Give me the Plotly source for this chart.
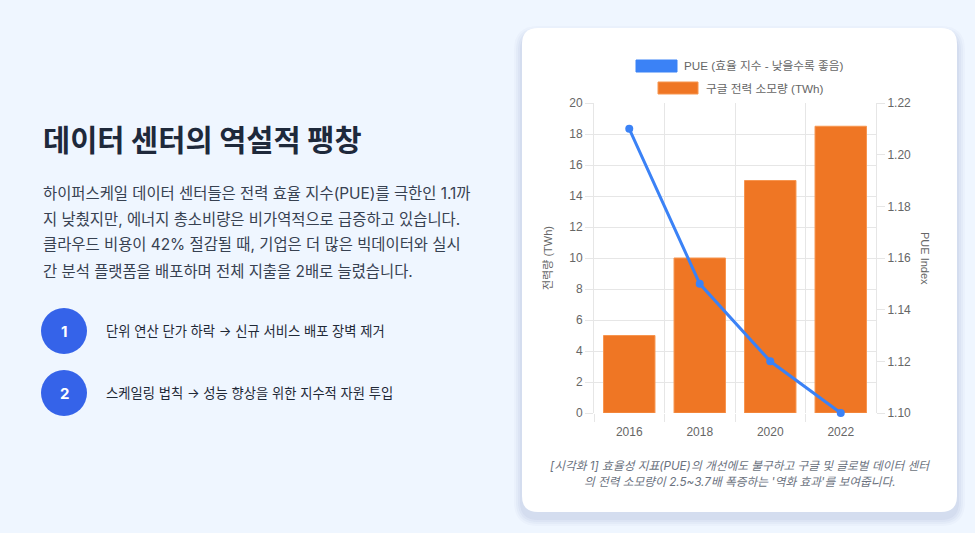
import plotly.graph_objects as go

# data
years = ['2016', '2018', '2020', '2022']
power_twh = [5, 10, 15, 18.5]
pue = [1.21, 1.15, 1.12, 1.10]

bar_name = '구글 전력 소모량 (TWh)'
line_name = 'PUE (효율 지수 - 낮을수록 좋음)'

title = '데이터 센터의 역설적 팽창'
body_lines = [
    '하이퍼스케일 데이터 센터들은 전력 효율 지수(PUE)를 극한인 1.1까',
    '지 낮췄지만, 에너지 총소비량은 비가역적으로 급증하고 있습니다.',
    '클라우드 비용이 42% 절감될 때, 기업은 더 많은 빅데이터와 실시',
    '간 분석 플랫폼을 배포하며 전체 지출을 2배로 늘렸습니다.',
]
steps = [
    '단위 연산 단가 하락 → 신규 서비스 배포 장벽 제거',
    '스케일링 법칙 → 성능 향상을 위한 지수적 자원 투입',
]
caption_lines = [
    "[시각화 1] 효율성 지표(PUE)의 개선에도 불구하고 구글 및 글로벌 데이터 센터",
    "의 전력 소모량이 2.5~3.7배 폭증하는 '역화 효과'를 보여줍니다.",
]

W, H = 975, 533
BLUE = '#3b82f6'
ORANGE = '#ef7624'
KR = 'Noto Sans CJK KR'
SANS = 'Inter, Noto Sans CJK KR'
CHART = 'Liberation Sans, Arial, Noto Sans CJK KR'


def X(px):
    return px / W


def Y(py):
    return 1 - py / H


def rrect(x0, y0, x1, y1, r):
    return (f"M {X(x0+r)},{Y(y0)} L {X(x1-r)},{Y(y0)} Q {X(x1)},{Y(y0)} {X(x1)},{Y(y0+r)} "
            f"L {X(x1)},{Y(y1-r)} Q {X(x1)},{Y(y1)} {X(x1-r)},{Y(y1)} "
            f"L {X(x0+r)},{Y(y1)} Q {X(x0)},{Y(y1)} {X(x0)},{Y(y1-r)} "
            f"L {X(x0)},{Y(y0+r)} Q {X(x0)},{Y(y0)} {X(x0+r)},{Y(y0)} Z")


fig = go.Figure()
fig.add_trace(go.Bar(
    x=years, y=power_twh, name=bar_name,
    marker=dict(color=ORANGE, line=dict(color='#f7954f', width=1)),
    showlegend=False,
))
fig.add_trace(go.Scatter(
    x=years, y=pue, name=line_name, yaxis='y2', mode='lines+markers',
    line=dict(color=BLUE, width=3), marker=dict(size=8, color=BLUE),
    cliponaxis=False, showlegend=False,
))

grid = '#e6e6e6'
tick_font = dict(family=CHART, size=12, color='#666666')
fig.update_layout(
    width=W, height=H,
    margin=dict(l=0, r=0, t=0, b=0, autoexpand=False),
    paper_bgcolor='#eff6ff',
    plot_bgcolor='rgba(0,0,0,0)',
    bargap=0.27,
    xaxis=dict(domain=[X(594), X(876)], type='category', tickson='boundaries',
               showgrid=True, gridcolor=grid, ticks='outside', ticklen=8,
               tickcolor=grid, tickfont=tick_font, showline=False, automargin=False,
               ticklabelstandoff=10),
    yaxis=dict(domain=[Y(413), Y(103)], range=[0, 20], dtick=2, showgrid=True,
               gridcolor=grid, ticks='outside', ticklen=8, tickcolor=grid,
               tickfont=tick_font, showline=True, linecolor=grid, zeroline=False,
               automargin=False),
    yaxis2=dict(overlaying='y', side='right', range=[1.10, 1.22], dtick=0.02,
                tickformat='.2f', showgrid=False, ticks='outside', ticklen=8,
                tickcolor=grid, tickfont=tick_font, showline=True, linecolor=grid,
                zeroline=False, automargin=False),
)

shapes = []
# card shadow + card
for i, op in enumerate([0.025, 0.03, 0.035, 0.04]):
    g = 8 - 2 * i
    shapes.append(dict(type='path', xref='paper', yref='paper', layer='below',
                       path=rrect(522 - g, 28 - g + 6, 957 + g, 512 + g + 6, 16 + g),
                       fillcolor=f'rgba(30,58,138,{op})', line=dict(width=0)))
shapes.append(dict(type='path', xref='paper', yref='paper', layer='below',
                   path=rrect(522, 28, 957, 512, 16),
                   fillcolor='white', line=dict(width=0)))
# legend swatches
shapes.append(dict(type='rect', xref='paper', yref='paper',
                   x0=X(636), x1=X(677), y0=Y(72), y1=Y(60),
                   fillcolor=BLUE, line=dict(color=BLUE, width=1)))
shapes.append(dict(type='rect', xref='paper', yref='paper',
                   x0=X(658), x1=X(698), y0=Y(94), y1=Y(82),
                   fillcolor=ORANGE, line=dict(color='#f7954f', width=1)))
# numbered circles
for k in range(len(steps)):
    cy = 331 + 62 * k
    shapes.append(dict(type='circle', xref='paper', yref='paper',
                       x0=X(41), x1=X(87), y0=Y(cy + 23), y1=Y(cy - 23),
                       fillcolor='#3563e9', line=dict(width=0)))

ann = []
ann.append(dict(text=f'<b>{title}</b>', x=X(41), y=Y(138), xanchor='left', yanchor='middle',
                font=dict(family=KR, size=29.5, color='#1e293b')))
for i, line in enumerate(body_lines):
    ann.append(dict(text=line, x=X(41), y=Y(193 + 26 * i), xanchor='left', yanchor='middle',
                    font=dict(family=SANS, size=15.4, color='#374151')))
for k, s in enumerate(steps):
    cy = 331 + 62 * k
    ann.append(dict(text=f'<b>{k + 1}</b>', x=X(64), y=Y(cy), xanchor='center', yanchor='middle',
                    font=dict(family=SANS, size=15, color='white')))
    ann.append(dict(text=s, x=X(104), y=Y(cy), xanchor='left', yanchor='middle',
                    font=dict(family=SANS, size=13.3, color='#1f2937')))
# legend labels
ann.append(dict(text=line_name, x=X(682), y=Y(66), xanchor='left', yanchor='middle',
                font=dict(family=CHART, size=11.7, color='#666666')))
ann.append(dict(text=bar_name, x=X(704), y=Y(88), xanchor='left', yanchor='middle',
                font=dict(family=CHART, size=11.7, color='#666666')))
# axis titles
ann.append(dict(text='전력량 (TWh)', x=X(548), y=Y(258), textangle=-90,
                xanchor='center', yanchor='middle',
                font=dict(family=CHART, size=11, color='#666666')))
ann.append(dict(text='PUE Index', x=X(925), y=Y(258), textangle=90,
                xanchor='center', yanchor='middle',
                font=dict(family=CHART, size=11, color='#666666')))
# caption
for i, c in enumerate(caption_lines):
    ann.append(dict(text=f'<i>{c}</i>', x=X(740), y=Y(466 + 16 * i), xanchor='center',
                    yanchor='middle', font=dict(family=SANS, size=11.7, color='#6b7280')))

for a in ann:
    a.update(xref='paper', yref='paper', showarrow=False)

fig.update_layout(shapes=shapes, annotations=ann)
fig.write_html('out.html', config={'displayModeBar': False},
               post_script="document.body.style.margin='0';document.body.style.overflow='hidden';")
